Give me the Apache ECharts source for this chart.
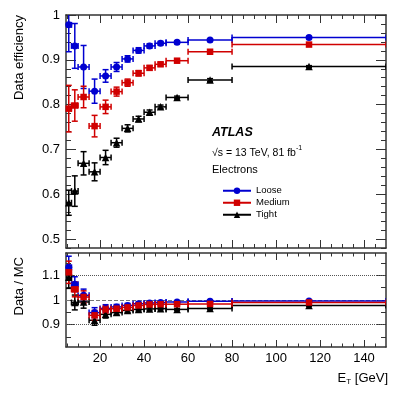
<!DOCTYPE html>
<html>
<head>
<meta charset="utf-8">
<script src="https://cdn.jsdelivr.net/npm/echarts@6/dist/echarts.min.js"></script>
<style>
  html, body { margin: 0; padding: 0; background: #fff; }
  #chart { width: 407px; height: 395px; }
</style>
</head>
<body>
<div id="chart"></div>
<script>
// E_T bins [GeV]
const etCenter = [5.75, 8.5, 12.5, 17.5, 22.5, 27.5, 32.5, 37.5, 42.5, 47.5, 55, 70, 115];
const etLow    = [4.5, 7, 10, 15, 20, 25, 30, 35, 40, 45, 50, 60, 80];
const etHigh   = [7, 10, 15, 20, 25, 30, 35, 40, 45, 50, 60, 80, 150];

// data efficiency
const looseEff  = [0.978, 0.931, 0.884, 0.830, 0.864, 0.884, 0.902, 0.921, 0.931, 0.937, 0.939, 0.944, 0.950];
const looseErr  = [0.060, 0.050, 0.048, 0.027, 0.014, 0.010, 0.007, 0.006, 0.005, 0.004, 0.003, 0.003, 0.002];
const mediumEff = [0.791, 0.798, 0.817, 0.752, 0.795, 0.829, 0.849, 0.870, 0.882, 0.890, 0.898, 0.918, 0.934];
const mediumErr = [0.052, 0.035, 0.024, 0.024, 0.015, 0.010, 0.008, 0.006, 0.005, 0.004, 0.003, 0.003, 0.002];
const tightEff  = [0.581, 0.607, 0.669, 0.650, 0.682, 0.715, 0.747, 0.768, 0.783, 0.795, 0.816, 0.855, 0.885];
const tightErr  = [0.028, 0.034, 0.026, 0.020, 0.016, 0.010, 0.008, 0.006, 0.005, 0.004, 0.003, 0.003, 0.002];

// data / MC
const looseSf  = [1.132, 1.064, 1.019, 0.949, 0.966, 0.972, 0.978, 0.985, 0.988, 0.990, 0.992, 0.995, 0.996];
const mediumSf = [1.112, 1.043, 1.012, 0.938, 0.962, 0.965, 0.970, 0.978, 0.982, 0.983, 0.983, 0.984, 0.990];
const tightSf  = [1.092, 0.990, 0.992, 0.918, 0.942, 0.949, 0.958, 0.962, 0.964, 0.965, 0.962, 0.966, 0.978];
const sfErr    = [0.045, 0.030, 0.025, 0.020, 0.015, 0.010, 0.008, 0.006, 0.005, 0.004, 0.004, 0.004, 0.003];

// ticks
const xMajor = [20, 40, 60, 80, 100, 120, 140];
const xMinor = [5, 10, 15, 25, 30, 35, 45, 50, 55, 65, 70, 75, 85, 90, 95, 105, 110, 115, 125, 130, 135, 145];
const effMajor = [0.5, 0.6, 0.7, 0.8, 0.9, 1.0];
const effMinor = [0.48, 0.52, 0.54, 0.56, 0.58, 0.62, 0.64, 0.66, 0.68, 0.72, 0.74, 0.76, 0.78, 0.82, 0.84, 0.86, 0.88, 0.92, 0.94, 0.96, 0.98];
const sfMajor = [0.9, 1.0, 1.1];
const sfMinor = [0.85, 0.95, 1.05, 1.15];

const FONT = '"Liberation Sans", Arial, Helvetica, sans-serif';
const AXIS = '#333';
const BLUE = '#0000d0';
const RED = '#d00000';
const BLACK = '#000';

const X_MIN = 4.5, X_MAX = 150;

const tick = (vals, len) => ({ show: true, inside: true, length: len, customValues: vals, lineStyle: { color: AXIS, width: 1 } });
const line = { show: true, onZero: false, lineStyle: { color: AXIS, width: 1.5 } };

// 4 x axes per grid: bottom major/minor, top major/minor
function makeXAxes(grid, majorLen, minorLen, labels) {
  const base = { type: 'value', gridIndex: grid, min: X_MIN, max: X_MAX, splitLine: { show: false } };
  return [
    { ...base, position: 'bottom', axisLine: line, axisTick: tick(xMajor, majorLen),
      axisLabel: labels ? { show: true, customValues: xMajor, margin: 5, color: '#000', fontSize: 13, fontFamily: FONT } : { show: false } },
    { ...base, position: 'bottom', axisLine: { show: false, onZero: false }, axisTick: tick(xMinor, minorLen), axisLabel: { show: false } },
    { ...base, position: 'top', axisLine: line, axisTick: tick(xMajor, majorLen), axisLabel: { show: false } },
    { ...base, position: 'top', axisLine: { show: false, onZero: false }, axisTick: tick(xMinor, minorLen), axisLabel: { show: false } }
  ];
}

function makeYAxes(grid, min, max, major, minor, majorLen, minorLen) {
  const base = { type: 'value', gridIndex: grid, min: min, max: max, splitLine: { show: false } };
  return [
    { ...base, position: 'left', axisLine: line, axisTick: tick(major, majorLen),
      axisLabel: { show: true, customValues: major, margin: 6, color: '#000', fontSize: 13, fontFamily: FONT,
        formatter: v => String(+v.toFixed(2)) } },
    { ...base, position: 'left', axisLine: { show: false, onZero: false }, axisTick: tick(minor, minorLen), axisLabel: { show: false } },
    { ...base, position: 'right', axisLine: line, axisTick: tick(major, majorLen), axisLabel: { show: false } },
    { ...base, position: 'right', axisLine: { show: false, onZero: false }, axisTick: tick(minor, minorLen), axisLabel: { show: false } }
  ];
}

// error bars with end caps, horizontal = bin width
function errRender(color) {
  return function (params, api) {
    const x = api.value(0), xl = api.value(1), xh = api.value(2);
    const y = api.value(3), yl = api.value(4), yh = api.value(5);
    const pL = api.coord([xl, y]), pR = api.coord([xh, y]);
    const pB = api.coord([x, yl]), pT = api.coord([x, yh]);
    const c = 3;
    const style = { stroke: color, lineWidth: 1.5, fill: null };
    const seg = (x1, y1, x2, y2) => ({ type: 'line', shape: { x1, y1, x2, y2 }, style });
    return {
      type: 'group',
      children: [
        seg(pL[0], pL[1], pR[0], pR[1]),
        seg(pL[0], pL[1] - c, pL[0], pL[1] + c),
        seg(pR[0], pR[1] - c, pR[0], pR[1] + c),
        seg(pB[0], pB[1], pT[0], pT[1]),
        seg(pB[0] - c, pB[1], pB[0] + c, pB[1]),
        seg(pT[0] - c, pT[1], pT[0] + c, pT[1])
      ]
    };
  };
}

function errData(vals, errs) {
  return etCenter.map((x, i) => [x, etLow[i], etHigh[i], vals[i], vals[i] - errs[i], vals[i] + errs[i]]);
}

function pointSeries(name, vals, errs, color, symbol, size, xi, yi) {
  return [
    { type: 'custom', name: name + '-err', xAxisIndex: xi, yAxisIndex: yi, clip: true, z: 3,
      renderItem: errRender(color), encode: { x: [0, 1, 2], y: [3, 4, 5] }, data: errData(vals, errs) },
    { type: 'scatter', name: name + '-pt', xAxisIndex: xi, yAxisIndex: yi, clip: true, z: 4,
      symbol: symbol, symbolSize: size, itemStyle: { color: color, opacity: 1 },
      data: etCenter.map((x, i) => [x, vals[i]]) }
  ];
}

const sets = [
  { name: 'Loose', eff: looseEff, err: looseErr, sf: looseSf, color: BLUE, symbol: 'circle', size: 7 },
  { name: 'Tight', eff: tightEff, err: tightErr, sf: tightSf, color: BLACK, symbol: 'triangle', size: 7.5 },
  { name: 'Medium', eff: mediumEff, err: mediumErr, sf: mediumSf, color: RED, symbol: 'rect', size: 6.5 }
];

const series = [];
sets.forEach(s => {
  series.push(...pointSeries(s.name, s.eff, s.err, s.color, s.symbol, s.size, 0, 0));
  series.push(...pointSeries(s.name, s.sf, sfErr, s.color, s.symbol, s.size, 4, 4));
});

// reference lines in the ratio panel
series[2].markLine = {
  silent: true, symbol: 'none', label: { show: false }, animation: false, z: 1,
  data: [
    { yAxis: 1.1, lineStyle: { color: '#555', type: 'dotted', width: 1 } },
    { yAxis: 1.0, lineStyle: { color: '#777', type: 'dashed', width: 1 } },
    { yAxis: 0.9, lineStyle: { color: '#555', type: 'dotted', width: 1 } }
  ]
};

// legend entries
[['Loose', BLUE, 'circle'], ['Medium', RED, 'rect'], ['Tight', BLACK, 'triangle']].forEach(([n, c, sym]) => {
  series.push({ type: 'line', name: n, xAxisIndex: 0, yAxisIndex: 0, data: [], symbol: sym, symbolSize: 7,
    itemStyle: { color: c }, lineStyle: { color: c, width: 1.5 } });
});

const option = {
  animation: false,
  backgroundColor: '#fff',
  textStyle: { fontFamily: FONT },
  grid: [
    { left: 66, top: 15, width: 320, height: 233 },
    { left: 66, top: 253, width: 320, height: 94 }
  ],
  xAxis: [...makeXAxes(0, 8, 4, false), ...makeXAxes(1, 7, 3.5, true)],
  yAxis: [...makeYAxes(0, 0.48, 1.0, effMajor, effMinor, 10, 5), ...makeYAxes(1, 0.81, 1.19, sfMajor, sfMinor, 9, 5)],
  legend: {
    data: ['Loose', 'Medium', 'Tight'],
    orient: 'vertical', left: 217, top: 180, itemWidth: 28, itemHeight: 8, itemGap: 0.5,
    selectedMode: false,
    textStyle: { fontSize: 9.5, color: '#000', fontFamily: FONT, lineHeight: 11.5 }
  },
  graphic: [
    { type: 'text', x: 19, y: 15, rotation: Math.PI / 2,
      style: { text: 'Data efficiency', font: '13px ' + FONT, fill: '#000', align: 'right', verticalAlign: 'middle' } },
    { type: 'text', x: 19, y: 257, rotation: Math.PI / 2,
      style: { text: 'Data / MC', font: '13px ' + FONT, fill: '#000', align: 'right', verticalAlign: 'middle' } },
    { type: 'text', x: 212, y: 133,
      style: { text: 'ATLAS', font: 'italic bold 12.5px ' + FONT, fill: '#000', align: 'left', verticalAlign: 'middle' } },
    { type: 'text', x: 212, y: 153,
      style: { text: '{m|√s = 13 TeV, 81 fb}{sup|-1}', align: 'left', verticalAlign: 'middle',
        rich: {
          m: { fontSize: 10.5, fontFamily: FONT, fill: '#000', lineHeight: 16 },
          sup: { fontSize: 7, fontFamily: FONT, fill: '#000', verticalAlign: 'top' }
        } } },
    { type: 'text', x: 212, y: 170,
      style: { text: 'Electrons', font: '11px ' + FONT, fill: '#000', align: 'left', verticalAlign: 'middle' } },
    { type: 'text', x: 388, y: 378,
      style: { text: '{m|E}{sub|T}{m| [GeV]}', align: 'right', verticalAlign: 'middle',
        rich: {
          m: { fontSize: 13, fontFamily: FONT, fill: '#000', lineHeight: 16 },
          sub: { fontSize: 8, fontFamily: FONT, fill: '#000', verticalAlign: 'bottom' }
        } } }
  ],
  series: series
};

const chart = echarts.init(document.getElementById('chart'));
chart.setOption(option);
</script>
</body>
</html>
